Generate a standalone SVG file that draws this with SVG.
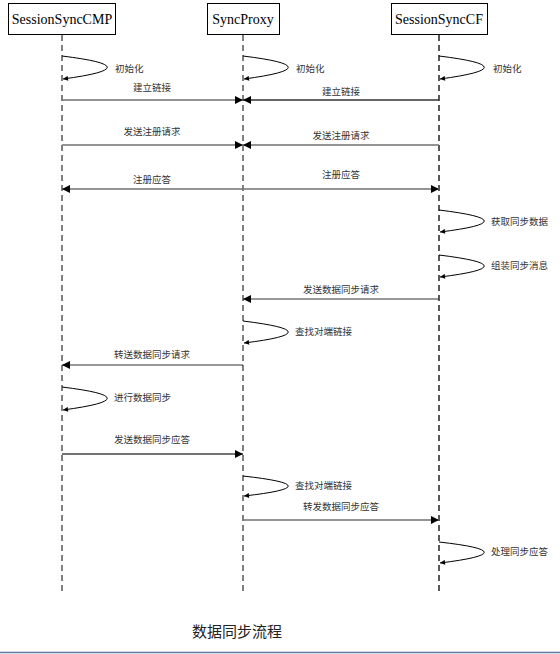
<svg xmlns="http://www.w3.org/2000/svg" width="560" height="654" viewBox="0 0 560 654">
<style>
.box{fill:#fff;stroke:#000;stroke-width:1}
.hd{font-family:"Liberation Serif","Noto Sans CJK SC",serif;font-size:14px;fill:#000;text-anchor:middle}
.lbl{font-family:"Noto Sans CJK SC","Liberation Serif",sans-serif;font-size:9.5px;fill:#333}
.mid{text-anchor:middle}
.ll{fill:none;stroke-dasharray:6 4}
.msg{fill:none;stroke:#707070;stroke-width:1.6}
.loop{fill:none;stroke:#000;stroke-width:1}
.cap{font-family:"Noto Sans CJK SC",sans-serif;font-size:15px;fill:#222}
</style>
<defs>
<marker id="ah" viewBox="0 0 10 10" refX="10" refY="5" markerWidth="10" markerHeight="8" markerUnits="userSpaceOnUse" orient="auto">
<path d="M0,0 L10,5 L0,10 Z" fill="#000"/>
</marker>
<marker id="sa" viewBox="0 0 10 10" refX="10" refY="5" markerWidth="6" markerHeight="5" markerUnits="userSpaceOnUse" orient="auto">
<path d="M0,0 L10,5 L0,10 Z" fill="#000"/>
</marker>
</defs>
<rect width="560" height="654" fill="#fff"/>
<g id="SessionSyncCMP">
<rect class="box" x="8.5" y="3.5" width="107" height="31"/>
<text class="hd" x="62" y="24">SessionSyncCMP</text>
<line class="ll" x1="62" y1="35" x2="62" y2="594" stroke="#808080" stroke-width="2"/>
</g>
<g id="SyncProxy">
<rect class="box" x="207.5" y="3.5" width="72" height="31"/>
<text class="hd" x="243" y="24">SyncProxy</text>
<line class="ll" x1="243" y1="35" x2="243" y2="594" stroke="#808080" stroke-width="2"/>
</g>
<g id="SessionSyncCF">
<rect class="box" x="391.5" y="3.5" width="96" height="31"/>
<text class="hd" x="439" y="24">SessionSyncCF</text>
<line class="ll" x1="439" y1="35" x2="439" y2="594" stroke="#000" stroke-width="1.3"/>
</g>
<g id="connectors">
<path class="loop" d="M62,56 Q152,67 63,79" marker-end="url(#sa)"/>
<path class="loop" d="M243,56 Q333,67 244,79" marker-end="url(#sa)"/>
<path class="loop" d="M439,56 Q529,67 440,79" marker-end="url(#sa)"/>
<line class="msg" x1="62" y1="100" x2="243" y2="100" stroke="#333" marker-end="url(#ah)"/>
<line class="msg" x1="439" y1="100" x2="243" y2="100" style="stroke:#333" marker-end="url(#ah)"/>
<line class="msg" x1="62" y1="145" x2="243" y2="145" marker-end="url(#ah)"/>
<line class="msg" x1="439" y1="145" x2="243" y2="145" marker-end="url(#ah)"/>
<line class="msg" x1="243" y1="189" x2="62" y2="189" marker-end="url(#ah)"/>
<line class="msg" x1="243" y1="189" x2="439" y2="189" marker-end="url(#ah)"/>
<path class="loop" d="M439,210 Q529,221 440,232" marker-end="url(#sa)"/>
<path class="loop" d="M439,255 Q529,266 440,277" marker-end="url(#sa)"/>
<line class="msg" x1="439" y1="299" x2="243" y2="299" style="stroke:#333;stroke-width:1.2" marker-end="url(#ah)"/>
<path class="loop" d="M243,321 Q333,332 244,343" marker-end="url(#sa)"/>
<line class="msg" x1="243" y1="365" x2="62" y2="365" style="stroke:#333;stroke-width:1.2" marker-end="url(#ah)"/>
<path class="loop" d="M62,387 Q152,398 63,410" marker-end="url(#sa)"/>
<line class="msg" x1="62" y1="454" x2="243" y2="454" style="stroke:#444;stroke-width:1.3" marker-end="url(#ah)"/>
<path class="loop" d="M243,476 Q333,486 244,496" marker-end="url(#sa)"/>
<line class="msg" x1="243" y1="520" x2="439" y2="520" marker-end="url(#ah)"/>
<path class="loop" d="M439,542 Q529,552 440,563" marker-end="url(#sa)"/>
</g>
<g id="labels">
<text class="lbl" x="115" y="72">初始化</text>
<text class="lbl" x="296" y="72">初始化</text>
<text class="lbl" x="493" y="72">初始化</text>
<text class="lbl mid" x="152" y="91">建立链接</text>
<text class="lbl mid" x="341" y="95">建立链接</text>
<text class="lbl mid" x="152" y="135">发送注册请求</text>
<text class="lbl mid" x="341" y="139">发送注册请求</text>
<text class="lbl mid" x="152" y="183">注册应答</text>
<text class="lbl mid" x="341" y="178">注册应答</text>
<text class="lbl" x="491" y="225">获取同步数据</text>
<text class="lbl" x="491" y="269">组装同步消息</text>
<text class="lbl mid" x="341" y="293">发送数据同步请求</text>
<text class="lbl" x="295" y="335">查找对端链接</text>
<text class="lbl mid" x="152" y="358">转送数据同步请求</text>
<text class="lbl" x="114" y="401">进行数据同步</text>
<text class="lbl mid" x="152" y="443">发送数据同步应答</text>
<text class="lbl" x="295" y="489">查找对端链接</text>
<text class="lbl mid" x="341" y="510">转发数据同步应答</text>
<text class="lbl" x="491" y="555">处理同步应答</text>
<text class="cap" x="192" y="637">数据同步流程</text>
</g>
<line x1="0" y1="652.5" x2="560" y2="652.5" stroke="#5b7b9b" stroke-width="1.5"/>
</svg>
